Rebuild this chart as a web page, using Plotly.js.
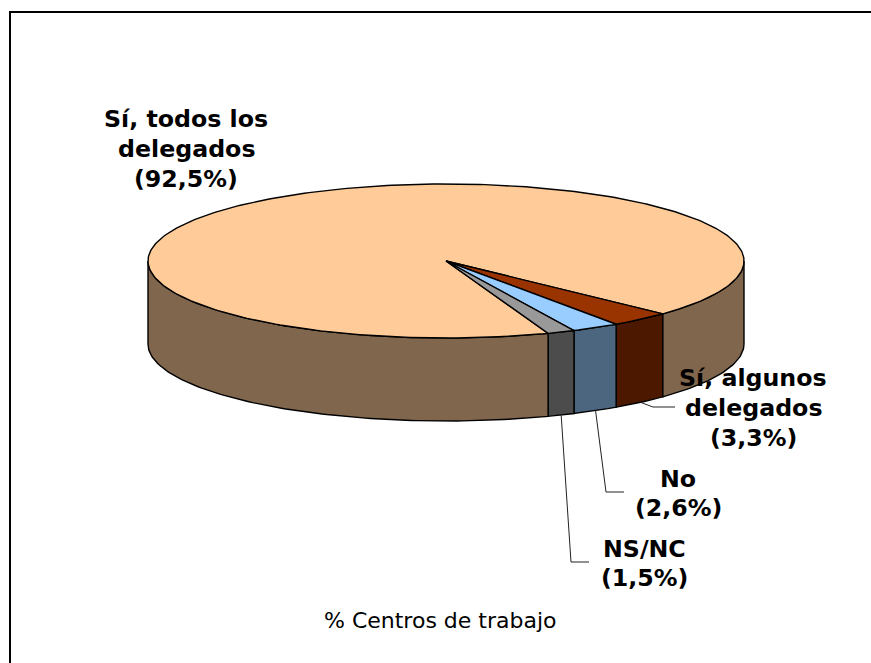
<!DOCTYPE html>
<html><head><meta charset="utf-8">
<script src="https://cdn.plot.ly/plotly-3.0.1.min.js"></script>
<style>html,body{margin:0;padding:0;background:#fff}</style>
</head><body><div id="chart" style="width:871px;height:663px"></div>
<script>
const categories = ["Sí, algunos delegados","No","NS/NC","Sí, todos los delegados"];
const values = [3.3,2.6,1.5,92.5];
const topColors = ["#993300","#99CCFF","#999999","#FFCC99"];
const wallColors = ["#4C1900","#4C667F","#4C4C4C","#80664C"];
const labelLines = [
  {lines:["Sí, todos los","delegados","(92,5%)"],x:186,y:[119,149,179]},
  {lines:["Sí, algunos","delegados","(3,3%)"],x:753,y:[378,408,438]},
  {lines:["No","(2,6%)"],x:678,y:[479,508]},
  {lines:["NS/NC","(1,5%)"],x:644,y:[549,578]}
];
const footer = "% Centros de trabajo";

const cx=446, cy=261, rx=298, ry=77, depth=83, startDeg=43.3;
const total = values.reduce((a,b)=>a+b,0);
const rad = d=>d*Math.PI/180;
const px = d=>cx+rx*Math.cos(rad(d));
const py = d=>cy+ry*Math.sin(rad(d));
function arc(a,b){const n=Math.max(2,Math.ceil(Math.abs(b-a)));const o=[];for(let i=0;i<=n;i++)o.push(a+(b-a)*i/n);return o;}

const spans=[];let ang=startDeg;
values.forEach((v,i)=>{const e=ang+v/total*360;spans.push([ang,e]);ang=e;});

const traces=[];
function poly(xs,ys,color){traces.push({type:"scatter",mode:"lines",x:xs,y:ys,fill:"toself",fillcolor:color,
  line:{color:"#000",width:1.4},hoverinfo:"skip",showlegend:false});}
// walls: only the front half (0..180, plus the wrap 360..540) is visible
spans.forEach(([a,b],i)=>{
  [[0,180],[360,540]].forEach(([l,h])=>{
    const s=Math.max(a,l),e=Math.min(b,h);
    if(e<=s)return;
    const t=arc(s,e);
    poly(t.map(px).concat(t.slice().reverse().map(px),[px(s)]),
         t.map(py).concat(t.slice().reverse().map(d=>py(d)+depth),[py(s)]),wallColors[i]);
  });
});
// top faces, largest first so the thin wedges stay visible
[3,0,1,2].forEach(i=>{
  const t=arc(spans[i][0],spans[i][1]);
  poly([cx].concat(t.map(px),[cx]),[cy].concat(t.map(py),[cy]),topColors[i]);
});
// leader lines start from the middle of each slice's rim
const mid=i=>(spans[i][0]+spans[i][1])/2;
const leaders=[[0,[[653,407],[675,407]]],[1,[[606,492],[624,492]]],[2,[[571,562],[589,562]]]];
leaders.forEach(([i,pts])=>{
  const d=mid(i);
  traces.push({type:"scatter",mode:"lines",x:[px(d)].concat(pts.map(p=>p[0])),y:[py(d)+depth].concat(pts.map(p=>p[1])),
    line:{color:"#222",width:1},hoverinfo:"skip",showlegend:false});
});

const annotations=[];
labelLines.forEach(l=>l.lines.forEach((t,k)=>annotations.push({x:l.x,y:l.y[k],xref:"x",yref:"y",showarrow:false,
  xanchor:"center",yanchor:"middle",font:{family:"DejaVu Sans",size:23.7,color:"#000"},text:"<b>"+t+"</b>"})));
annotations.push({text:footer,x:440,y:620,xref:"x",yref:"y",showarrow:false,xanchor:"center",yanchor:"middle",
  font:{family:"DejaVu Sans",size:22,color:"#000"}});

const hidden={visible:false,fixedrange:true};
Plotly.newPlot("chart",traces,{
  width:871,height:663,margin:{l:0,r:0,t:0,b:0},paper_bgcolor:"#fff",plot_bgcolor:"#fff",showlegend:false,
  xaxis:Object.assign({range:[0,871]},hidden),
  yaxis:Object.assign({range:[663,0]},hidden),
  shapes:[{type:"line",xref:"x",yref:"y",x0:10,x1:10,y0:11,y1:663,line:{color:"#000",width:2}},
          {type:"line",xref:"x",yref:"y",x0:9,x1:871,y0:12,y1:12,line:{color:"#000",width:2}}],
  annotations
},{displayModeBar:false,staticPlot:true});
</script></body></html>
